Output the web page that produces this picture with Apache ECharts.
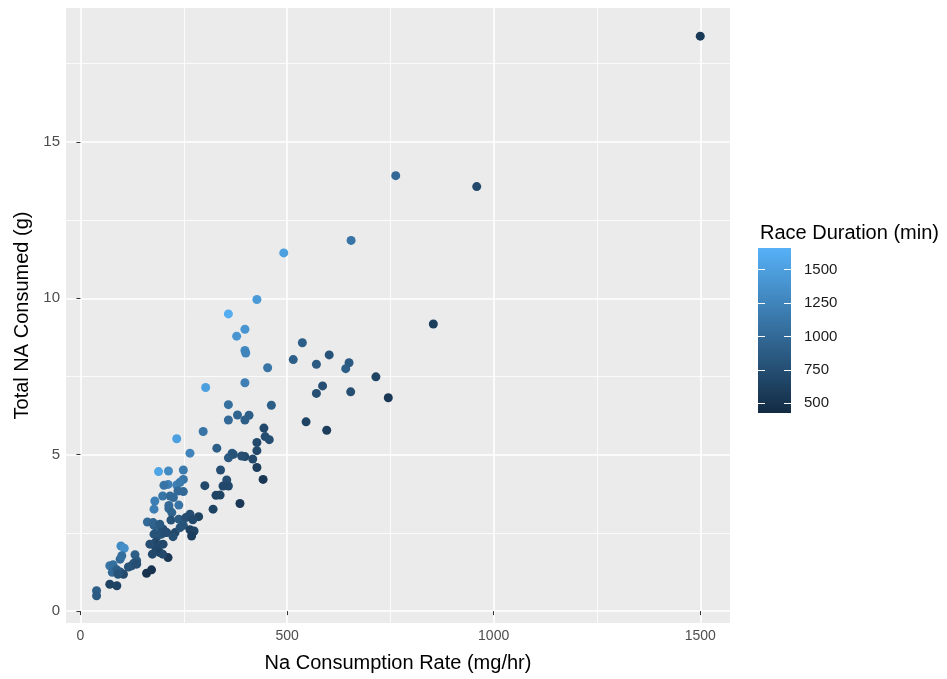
<!DOCTYPE html>
<html>
<head>
<meta charset="utf-8">
<script src="https://cdn.jsdelivr.net/npm/echarts@6/dist/echarts.min.js"></script>
<style>
  html, body { margin: 0; padding: 0; background: #fff; }
  #chart { width: 947px; height: 679px; }
</style>
</head>
<body>
<div id="chart"></div>
<script>
// Na consumption rate (mg/hr), total Na consumed (g), race duration (min)
var rate = [1500, 763, 959, 655, 492, 854, 537, 602, 515, 427, 358, 398, 378, 398, 400, 453, 571, 650, 642, 715,
  398, 303, 586, 571, 654, 745, 358, 462, 380, 408, 358, 398, 546, 596, 297, 444, 447, 457, 233, 265,
  330, 367, 358, 427, 427, 398, 417, 427, 339, 249, 189, 213, 249, 442, 301, 354, 358, 345, 249, 328,
  338, 386, 321, 212, 233, 241, 202, 199, 217, 225, 236, 214, 214, 238, 180, 178, 221, 162, 178, 186,
  200, 209, 219, 229, 238, 255, 265, 241, 249, 286, 265, 275, 269, 178, 186, 196, 181, 182, 200, 192,
  174, 212, 199, 98, 106, 96, 100, 132, 136, 124, 129, 116, 104, 96, 71, 79, 77, 88, 160, 172,
  71, 88, 39, 39, 224, 176, 192, 272, 168, 192, 136, 91, 205, 370, 390];
var sodium = [18.38, 13.92, 13.57, 11.85, 11.45, 9.18, 8.58, 8.19, 8.04, 9.96, 9.50, 9.01, 8.79, 8.33, 8.25, 7.78, 7.89, 7.94, 7.75, 7.49,
  7.30, 7.15, 7.20, 6.96, 7.01, 6.82, 6.60, 6.58, 6.27, 6.26, 6.11, 6.11, 6.05, 5.78, 5.74, 5.85, 5.58, 5.48, 5.51, 5.05,
  5.21, 5.05, 4.90, 5.39, 5.13, 4.94, 4.86, 4.59, 4.51, 4.51, 4.46, 4.48, 4.21, 4.21, 4.01, 4.19, 4.00, 4.00, 3.82, 3.70,
  3.71, 3.44, 3.26, 4.05, 4.03, 4.12, 4.02, 3.68, 3.68, 3.63, 3.84, 3.38, 3.28, 3.39, 3.52, 3.26, 3.15, 2.85, 2.74, 2.67,
  2.62, 2.51, 2.91, 2.51, 2.94, 2.99, 3.10, 2.67, 2.74, 3.02, 2.60, 2.56, 2.40, 2.46, 2.40, 2.46, 2.19, 2.03, 2.14, 1.87,
  1.82, 1.71, 1.82, 2.08, 2.01, 1.66, 1.77, 1.80, 1.61, 1.45, 1.53, 1.41, 1.18, 1.25, 1.45, 1.48, 1.24, 1.32, 1.21, 1.32,
  0.86, 0.81, 0.65, 0.49, 2.38, 2.83, 2.78, 2.92, 2.14, 2.12, 1.50, 1.18, 2.51, 5.01, 4.96];
var duration = [560, 1000, 700, 1100, 1500, 600, 900, 800, 900, 1450, 1620, 1400, 1400, 1300, 1250, 1100, 850, 850, 900, 650,
  1200, 1500, 750, 750, 750, 550, 1050, 900, 950, 900, 1000, 900, 650, 600, 1100, 700, 750, 750, 1500, 1250,
  900, 850, 850, 700, 700, 700, 700, 600, 750, 1150, 1550, 1300, 1100, 550, 700, 750, 700, 700, 1000, 650,
  650, 550, 650, 1200, 1200, 1150, 1100, 1100, 1000, 1000, 1000, 1000, 1000, 1100, 1200, 1200, 950, 1000, 900, 900,
  750, 750, 800, 700, 850, 750, 750, 800, 800, 650, 650, 650, 600, 800, 800, 800, 700, 700, 700, 650,
  700, 550, 700, 1300, 1350, 1000, 1050, 900, 850, 800, 800, 800, 700, 750, 1100, 1050, 1000, 900, 500, 500,
  650, 650, 900, 850, 750, 950, 850, 700, 750, 700, 750, 800, 750, 800, 750];

var xTicks = [0, 500, 1000, 1500];
var xMinor = [250, 750, 1250];
var yTicks = [0, 5, 10, 15];
var yMinor = [2.5, 7.5, 12.5, 17.5];
var durTicks = [500, 750, 1000, 1250, 1500];
var durMin = 428, durMax = 1660;
var lowColor = '#132B43', highColor = '#56B1F7';

var points = rate.map(function (r, i) { return [r, sodium[i], duration[i]]; });

var chart = echarts.init(document.getElementById('chart'));
var font = 'Liberation Sans';
var plain = function (v) { return String(v); };
var tickStyle = { show: true, length: 4, lineStyle: { color: '#333333', width: 1 } };

chart.setOption({
  backgroundColor: '#ffffff',
  textStyle: { fontFamily: font },
  animation: false,
  title: {
    text: 'Race Duration (min)',
    left: 755, top: 218,
    textStyle: { fontFamily: font, fontSize: 20, fontWeight: 'normal', color: '#000000' }
  },
  grid: [
    { left: 66, top: 8, right: 217, bottom: 56, show: true, backgroundColor: '#EBEBEB', borderWidth: 0 },
    { left: 758, top: 248, width: 33, height: 165 }
  ],
  visualMap: {
    show: false, type: 'continuous', seriesIndex: 0, dimension: 2,
    min: durMin, max: durMax, inRange: { color: [lowColor, highColor] }
  },
  xAxis: [
    {
      gridIndex: 0, type: 'value', min: -35, max: 1572,
      name: 'Na Consumption Rate (mg/hr)', nameLocation: 'middle', nameGap: 30,
      nameTextStyle: { fontSize: 20, color: '#000000', fontFamily: font },
      axisLine: { show: false },
      axisTick: Object.assign({ customValues: xTicks }, tickStyle),
      axisLabel: { customValues: xTicks, formatter: plain, color: '#4D4D4D', fontSize: 14, margin: 6, fontFamily: font },
      splitLine: { show: true, lineStyle: { color: '#ffffff', width: 1.6 } }
    },
    {
      gridIndex: 0, type: 'value', min: -35, max: 1572, position: 'top',
      axisLine: { show: false },
      axisTick: { show: false, customValues: xMinor },
      axisLabel: { show: false, customValues: xMinor },
      splitLine: { show: true, lineStyle: { color: '#ffffff', width: 0.8 } }
    },
    {
      gridIndex: 1, type: 'category', data: [''], show: false
    }
  ],
  yAxis: [
    {
      gridIndex: 0, type: 'value', min: -0.38, max: 19.28,
      name: 'Total NA Consumed (g)', nameLocation: 'middle', nameGap: 34, nameRotate: 90,
      nameTextStyle: { fontSize: 20, color: '#000000', fontFamily: font },
      axisLine: { show: false },
      axisTick: Object.assign({ customValues: yTicks }, tickStyle),
      axisLabel: { customValues: yTicks, formatter: plain, color: '#4D4D4D', fontSize: 15, margin: 6, fontFamily: font },
      splitLine: { show: true, lineStyle: { color: '#ffffff', width: 1.6 } }
    },
    {
      gridIndex: 0, type: 'value', min: -0.38, max: 19.28, position: 'right',
      axisLine: { show: false },
      axisTick: { show: false, customValues: yMinor },
      axisLabel: { show: false, customValues: yMinor },
      splitLine: { show: true, lineStyle: { color: '#ffffff', width: 0.8 } }
    },
    {
      gridIndex: 1, type: 'value', min: durMin, max: durMax, position: 'right', z: 5,
      axisLine: { show: false },
      axisTick: { show: true, inside: true, length: 7, customValues: durTicks, lineStyle: { color: '#ffffff', width: 1 } },
      axisLabel: { customValues: durTicks, formatter: plain, color: '#1A1A1A', fontSize: 15, margin: 13, fontFamily: font },
      splitLine: { show: false }
    },
    {
      gridIndex: 1, type: 'value', min: durMin, max: durMax, position: 'left', z: 5,
      axisLine: { show: false },
      axisTick: { show: true, inside: true, length: 7, customValues: durTicks, lineStyle: { color: '#ffffff', width: 1 } },
      axisLabel: { show: false },
      splitLine: { show: false }
    }
  ],
  series: [
    {
      type: 'scatter', xAxisIndex: 0, yAxisIndex: 0,
      symbolSize: 9,
      itemStyle: { opacity: 1 },
      data: points
    },
    {
      // invisible base so the colour bar starts at the lowest duration
      type: 'bar', xAxisIndex: 2, yAxisIndex: 2, stack: 'bar', silent: true,
      barWidth: '100%', itemStyle: { color: 'transparent' },
      data: [durMin]
    },
    {
      type: 'bar', xAxisIndex: 2, yAxisIndex: 2, stack: 'bar', silent: true,
      barWidth: '100%',
      itemStyle: {
        color: new echarts.graphic.LinearGradient(0, 0, 0, 1, [
          { offset: 0, color: highColor },
          { offset: 1, color: lowColor }
        ])
      },
      data: [durMax - durMin]
    }
  ]
});
</script>
</body>
</html>
